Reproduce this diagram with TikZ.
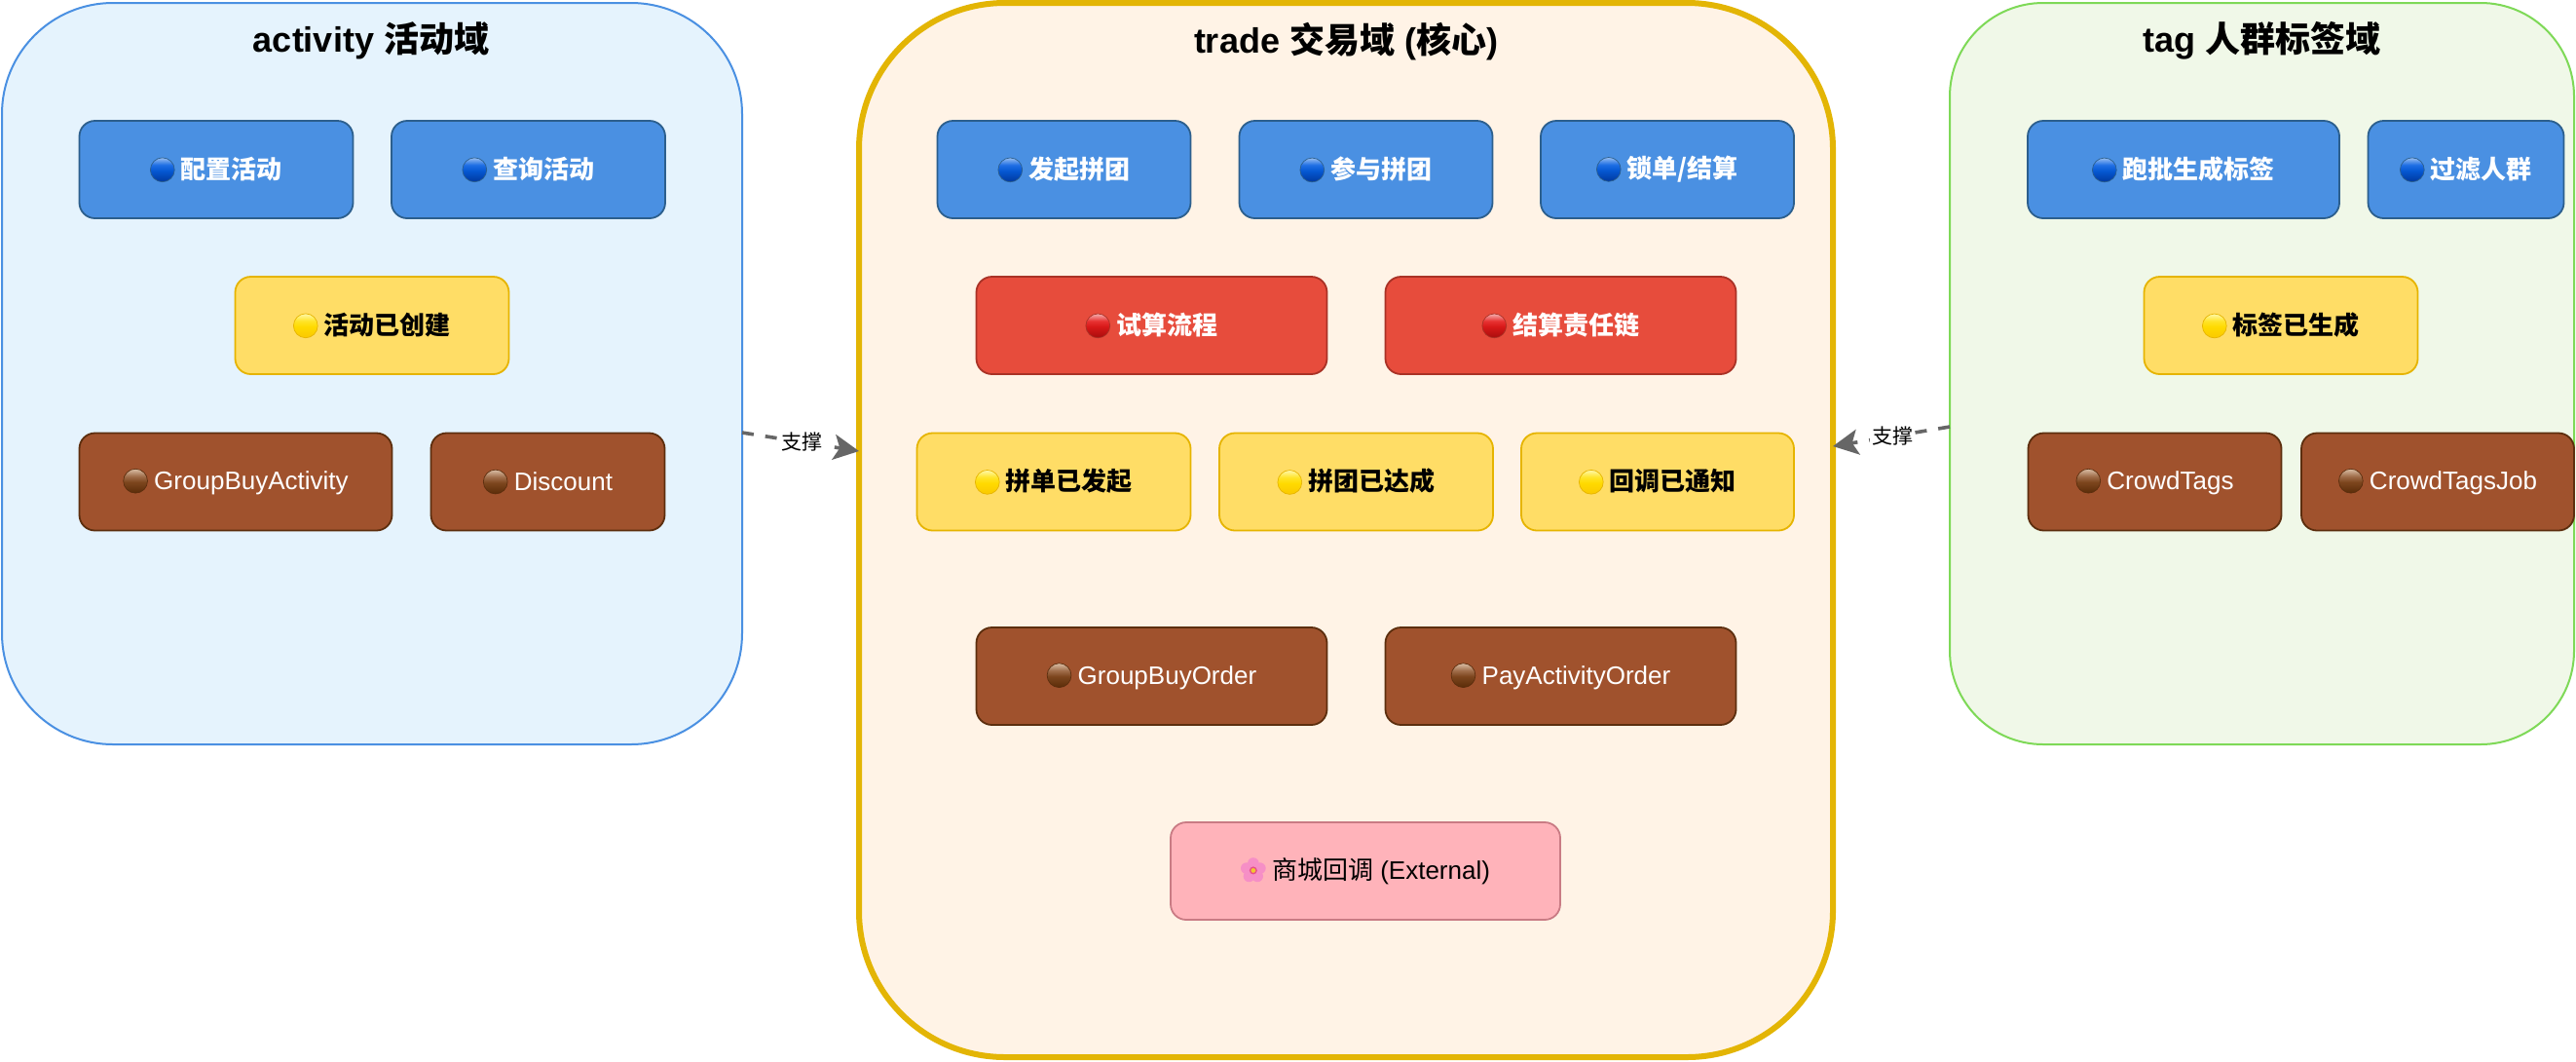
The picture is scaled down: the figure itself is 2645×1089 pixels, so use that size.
\documentclass[tikz,border=0pt]{standalone}
\usepackage{fontspec}
\setmainfont{Liberation Sans}
\newfontfamily\cjk{Noto Sans CJK SC}
\usetikzlibrary{arrows.meta}
\definecolor{actfill}{HTML}{E5F3FD}
\definecolor{actline}{HTML}{4A90E2}
\definecolor{tradefill}{HTML}{FFF3E6}
\definecolor{tradeline}{HTML}{E3B505}
\definecolor{tagfill}{HTML}{F0F8E8}
\definecolor{tagline}{HTML}{7ED957}
\definecolor{blueline}{HTML}{2C5F8D}
\definecolor{redfill}{HTML}{E74C3C}
\definecolor{redline}{HTML}{A93226}
\definecolor{yelfill}{HTML}{FFDD66}
\definecolor{yelline}{HTML}{E6B400}
\definecolor{brownfill}{HTML}{A0522D}
\definecolor{brownline}{HTML}{5C2E0E}
\definecolor{pinkfill}{HTML}{FFB3BA}
\definecolor{pinkline}{HTML}{C97B84}
\definecolor{arrowgrey}{HTML}{666666}
\definecolor{petal}{HTML}{F68FC6}
\definecolor{petalmid}{HTML}{E8508A}
\definecolor{pistil}{HTML}{F2C530}
%%% ball colours: low, mid, high, top
\definecolor{bluea}{HTML}{00389E}
\definecolor{blueb}{HTML}{0558D2}
\definecolor{bluec}{HTML}{1E6EE4}
\definecolor{blued}{HTML}{96BEF2}
\definecolor{reda}{HTML}{A80E0E}
\definecolor{redb}{HTML}{D71818}
\definecolor{redc}{HTML}{E83232}
\definecolor{redd}{HTML}{F5AFAF}
\definecolor{yela}{HTML}{FAC800}
\definecolor{yelb}{HTML}{FFDA00}
\definecolor{yelc}{HTML}{FFE428}
\definecolor{yeld}{HTML}{FFF8AA}
\definecolor{browna}{HTML}{5A2C08}
\definecolor{brownb}{HTML}{7D461E}
\definecolor{brownc}{HTML}{A06E4B}
\definecolor{brownd}{HTML}{DABEA5}
\pgfdeclareverticalshading{blueshade}{100bp}{color(0bp)=(bluea); color(25bp)=(bluea); color(48bp)=(blueb); color(60bp)=(bluec); color(75bp)=(blued); color(100bp)=(blued)}
\pgfdeclareverticalshading{redshade}{100bp}{color(0bp)=(reda); color(25bp)=(reda); color(48bp)=(redb); color(60bp)=(redc); color(75bp)=(redd); color(100bp)=(redd)}
\pgfdeclareverticalshading{yelshade}{100bp}{color(0bp)=(yela); color(25bp)=(yela); color(48bp)=(yelb); color(60bp)=(yelc); color(75bp)=(yeld); color(100bp)=(yeld)}
\pgfdeclareverticalshading{brownshade}{100bp}{color(0bp)=(browna); color(25bp)=(browna); color(48bp)=(brownb); color(60bp)=(brownc); color(75bp)=(brownd); color(100bp)=(brownd)}
\newcommand{\ball}[2]{\tikz[baseline=-4.5pt]\draw[shading=#1,draw=#2,line width=0.35pt] (0,0) circle (6.2pt);\hspace{3.2pt}}
\newcommand{\blueball}{\ball{blueshade}{blueline}}
\newcommand{\redball}{\ball{redshade}{redline}}
\newcommand{\yelball}{\ball{yelshade}{yelline}}
\newcommand{\brownball}{\ball{brownshade}{brownline}}
\newcommand{\flower}{\tikz[baseline=-4.5pt]{\foreach \a in {90,162,234,306,378} \fill[petal] (\a:3.7pt) circle (2.9pt); \fill[petalmid] (0,0) circle (2pt); \fill[pistil] (0,0) circle (1.2pt);}\hspace{3.2pt}}
\tikzset{
  domainbox/.style={draw,outer sep=0pt,inner sep=0pt},
  box/.style={draw,line width=0.9pt,rounded corners=8pt,outer sep=0pt,inner sep=0pt,minimum height=50pt,font=\fontsize{13}{15}\selectfont},
  bluebox/.style={box,fill=actline,draw=blueline,text=white,font=\fontsize{13}{15}\selectfont\bfseries},
  redbox/.style={box,fill=redfill,draw=redline,text=white,font=\fontsize{13}{15}\selectfont\bfseries},
  yelbox/.style={box,fill=yelfill,draw=yelline,text=black,font=\fontsize{13}{15}\selectfont\bfseries},
  brownbox/.style={box,fill=brownfill,draw=brownline,text=white},
  titletext/.style={font=\fontsize{18}{20}\selectfont\bfseries,inner sep=0pt},
  supportline/.style={draw=arrowgrey,line width=1.8pt,dash pattern=on 6pt off 6pt,-{Stealth[inset=3pt,length=13pt,width=13pt,fill=arrowgrey]}},
  supportlabel/.style={fill=white,inner sep=1pt,text=black,font=\fontsize{10.5}{12}\selectfont}
}
\begin{document}
\begin{tikzpicture}[x=0.5pt,y=-0.5pt]
  \useasboundingbox (0,0) rectangle (2645,1089);
  %%% domains
  \node[domainbox,fill=actfill,draw=actline,line width=1pt,rounded corners=57pt,minimum width=380pt,minimum height=380.5pt] (activity) at (382,383.5) {};
  \node[domainbox,fill=tradefill,draw=tradeline,line width=3pt,rounded corners=75pt,minimum width=500pt,minimum height=541pt] (trade) at (1382,544) {};
  \node[domainbox,fill=tagfill,draw=tagline,line width=1pt,rounded corners=48pt,minimum width=320.5pt,minimum height=380.5pt] (tag) at (2322.5,383.5) {};
  %%% titles
  \node[titletext] (activitytitle) at (381,42) {activity {\cjk 活动域}};
  \node[titletext] (tradetitle) at (1382,43) {trade {\cjk 交易域} ({\cjk 核心})};
  \node[titletext] (tagtitle) at (2322,42) {tag {\cjk 人群标签域}};
  %%% activity boxes
  \node[bluebox,minimum width=140.5pt] (config) at (222,174) {\blueball{\cjk 配置活动}};
  \node[bluebox,minimum width=140.5pt] (query) at (542.5,174) {\blueball{\cjk 查询活动}};
  \node[yelbox,minimum width=140.5pt] (created) at (382,334) {\yelball{\cjk 活动已创建}};
  \node[brownbox,minimum width=160.5pt] (gbactivity) at (242,494.5) {\brownball GroupBuyActivity};
  \node[brownbox,minimum width=120pt] (discount) at (562.5,494.5) {\brownball Discount};
  %%% trade boxes
  \node[bluebox,minimum width=130pt] (launch) at (1092.5,174) {\blueball{\cjk 发起拼团}};
  \node[bluebox,minimum width=130pt] (join) at (1402.5,174) {\blueball{\cjk 参与拼团}};
  \node[bluebox,minimum width=130pt] (lock) at (1712,174) {\blueball{\cjk 锁单/结算}};
  \node[redbox,minimum width=180pt] (trial) at (1182.5,334) {\redball{\cjk 试算流程}};
  \node[redbox,minimum width=180pt] (settle) at (1602.5,334) {\redball{\cjk 结算责任链}};
  \node[yelbox,minimum width=140.5pt] (started) at (1082,494.5) {\yelball{\cjk 拼单已发起}};
  \node[yelbox,minimum width=140.5pt] (reached) at (1392.5,494.5) {\yelball{\cjk 拼团已达成}};
  \node[yelbox,minimum width=140pt] (notified) at (1702,494.5) {\yelball{\cjk 回调已通知}};
  \node[brownbox,minimum width=180pt] (gborder) at (1182.5,694) {\brownball GroupBuyOrder};
  \node[brownbox,minimum width=180pt] (payorder) at (1602.5,694) {\brownball PayActivityOrder};
  \node[box,fill=pinkfill,draw=pinkline,text=black,minimum width=200pt] (mall) at (1402,894) {\flower{\cjk 商城回调} (External)};
  %%% tag boxes
  \node[bluebox,minimum width=160pt] (batch) at (2242,174) {\blueball{\cjk 跑批生成标签}};
  \node[bluebox,minimum width=100.5pt] (filter) at (2532,174) {\blueball{\cjk 过滤人群}};
  \node[yelbox,minimum width=140.5pt] (generated) at (2342,334) {\yelball{\cjk 标签已生成}};
  \node[brownbox,minimum width=130pt] (crowdtags) at (2212.5,494.5) {\brownball CrowdTags};
  \node[brownbox,minimum width=140pt] (crowdjob) at (2503,494.5) {\brownball CrowdTagsJob};
  %%% edges
  \draw[supportline] ([yshift=-30.25pt]activity.east) -- node[supportlabel,pos=0.51] (leftlabel) {\cjk 支撑} ([yshift=40.5pt]trade.west);
  \draw[supportline] ([yshift=-27.25pt]tag.west) -- node[supportlabel,pos=0.49] (rightlabel) {\cjk 支撑} ([yshift=43pt]trade.east);
\end{tikzpicture}
\end{document}
